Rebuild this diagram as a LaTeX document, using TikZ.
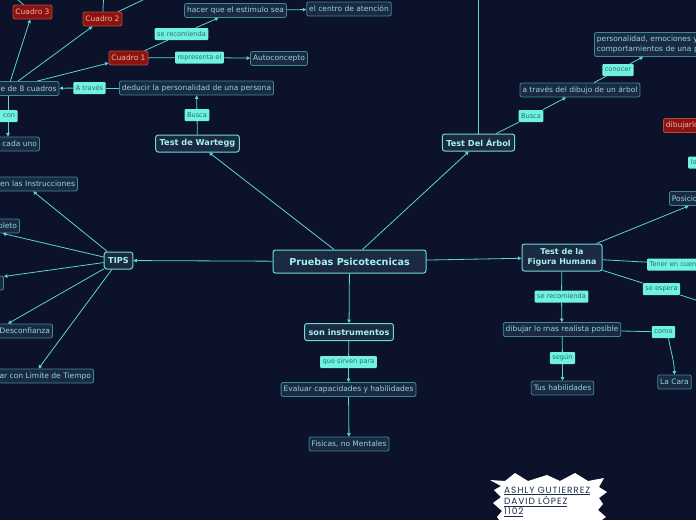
\documentclass[tikz,border=0pt]{standalone}
\usepackage{fontspec}
\setmainfont{DejaVu Sans}
\newfontfamily\sigfont[LetterSpace=10]{Poppins}
\usetikzlibrary{arrows.meta}
\definecolor{bg}{HTML}{0B1229}
\definecolor{nodef}{HTML}{1B2942}
\definecolor{leafb}{HTML}{3B8A92}
\definecolor{leaft}{HTML}{8ADADA}
\definecolor{mainb}{HTML}{6CDCD4}
\definecolor{maint}{HTML}{A6F2EA}
\definecolor{lblf}{HTML}{6FF2E2}
\definecolor{lblt}{HTML}{2D6B6E}
\definecolor{redf}{HTML}{8C130F}
\definecolor{redb}{HTML}{B24A44}
\definecolor{redt}{HTML}{F0B3A0}
\definecolor{linec}{HTML}{5CD6CA}
\definecolor{sigt}{HTML}{1E2B4A}
\begin{document}
\begin{tikzpicture}[x=1pt,y=-1pt,
 leaf/.style={draw=leafb, fill=nodef, text=leaft, rounded corners=2pt, line width=0.8pt,
   font=\fontsize{7.5}{8.8}\selectfont, inner xsep=2.5pt, inner ysep=0pt, minimum height=14pt},
 big/.style={draw=mainb, fill=nodef, text=maint, rounded corners=2.5pt, line width=1pt,
   font=\bfseries\fontsize{8.2}{9.8}\selectfont, inner xsep=4pt, inner ysep=0pt, minimum height=17pt},
 lbl/.style={fill=lblf, text=lblt, rounded corners=1pt, font=\fontsize{6.6}{7.5}\selectfont,
   inner xsep=2.5pt, inner ysep=0pt, minimum height=12pt},
 rednode/.style={leaf, draw=redb, fill=redf, text=redt},
 cutl/.style={text width=#1, align=right},
 cutr/.style={text width=#1, align=left},
 conn/.style={draw=linec, line width=0.8pt},
 arr/.style={conn, -{Triangle[length=3.5pt,width=3.5pt]}},
]
\useasboundingbox (0,0) rectangle (696,520);
\fill[bg] (0,0) rectangle (696,520);
\clip (0,0) rectangle (696,520);

% centre
\node[big, font=\bfseries\fontsize{9.6}{11}\selectfont, minimum height=23pt, minimum width=153pt] (main) at (349.5,261.5) {Pruebas Psicotecnicas};
\node[big] (wartegg) at (197.5,143.5) {Test de Wartegg};
\node[big] (arbol) at (478.5,142.5) {Test Del Árbol};
\node[big] (tips) at (118.5,260.5) {TIPS};
\node[big] (son) at (349,332) {son instrumentos};
\node[lbl] (sirven) at (348.5,362) {que sirven para};
\node[leaf] (evaluar) at (348.5,389.5) {Evaluar capacidades y habilidades};
\node[leaf] (fisicas) at (349,444) {Fisicas, no Mentales};

% Wartegg branch
\node[lbl] (busca1) at (197,115) {Busca};
\node[leaf] (deducir) at (196.5,88) {deducir la personalidad de una persona};
\node[lbl] (atraves1) at (89.5,88) {A través};
\node[leaf, cutl=97pt] (ocho) at (8,88.5) {e de 8 cuadros};
\node[lbl, cutl=14pt] (con) at (8,116) {con};
\node[leaf, cutl=58pt] (cadauno) at (8,144) {cada uno};
\node[rednode] (cuadro1) at (128.5,58) {Cuadro 1};
\node[rednode] (cuadro2) at (102.5,19) {Cuadro 2};
\node[rednode] (cuadro3) at (32.5,12) {Cuadro 3};
\node[lbl] (serec1) at (181.5,34) {se recomienda};
\node[leaf] (hacer) at (235.5,10.5) {hacer que el estimulo sea};
\node[leaf] (centro) at (349,9) {el centro de atención};
\node[lbl] (representa) at (199.5,57.5) {representa el};
\node[leaf] (auto) at (279,58.5) {Autoconcepto};
\coordinate (c3up) at (-6,-20);
\coordinate (c2up) at (104,-10);
\coordinate (c2ur) at (164,-10);

% TIPS branch
\node[leaf, cutl=102pt] (instr) at (24,184) {en las Instrucciones};
\node[leaf, cutl=92pt] (pleto) at (-29,226) {pleto};
\node[leaf, cutl=88pt] (tercero) at (-43,283) {};
\node[leaf, cutl=110pt] (desconf) at (-5,331) {Desconfianza};
\node[leaf, cutl=116pt] (tiempo) at (33,376) {ar con Limite de Tiempo};

% Arbol branch
\coordinate (arbtop) at (478.5,-10);
\node[lbl] (busca2) at (531,116) {Busca};
\node[leaf] (atraves2) at (580,90) {a través del dibujo de un árbol};
\node[lbl] (conocer) at (618,70) {conocer};
\node[leaf, cutr=140pt, minimum height=24pt, font=\fontsize{7.5}{9.5}\selectfont, anchor=west] (person) at (594,44.5) {personalidad, emociones y\\comportamientos de una p};
\node[rednode, cutr=60pt, anchor=west] (dibujarlo) at (663,125.5) {dibujarlo};
\node[lbl, cutr=40pt, anchor=west] (lo) at (688,162.5) {lo};

% Figura Humana branch
\node[big, align=center, minimum height=27pt, minimum width=80pt, font=\bfseries\fontsize{8}{10.5}\selectfont] (fh) at (562,257.5) {Test de la\\Figura Humana};
\node[leaf, cutr=70pt, anchor=west] (posicio) at (669,198.5) {Posicio};
\node[lbl, cutr=80pt, anchor=west] (tener) at (647,264.5) {Tener en cuen};
\node[lbl] (espera) at (661.5,289) {se espera};
\coordinate (espright) at (730,311);
\node[lbl] (serec2) at (561.5,296.5) {se recomienda};
\node[leaf] (dibujar) at (562,329.5) {dibujar lo mas realista posible};
\node[lbl] (segun) at (562.5,358) {según};
\node[leaf] (habil) at (562.5,388) {Tus habilidades};
\node[lbl] (como) at (663.5,332) {como};
\node[leaf] (cara) at (674.5,382) {La Cara};

% connectors
\draw[arr] (main) -- (wartegg);
\draw[arr] (main) -- (arbol);
\draw[arr] (main) -- (tips);
\draw[arr] (main) -- (fh);
\draw[arr] (main) -- (son);
\draw[conn] (son) -- (sirven);
\draw[arr] (sirven) -- (evaluar);
\draw[arr] (evaluar) -- (fisicas);

\draw[conn] (wartegg) -- (busca1);
\draw[arr] (busca1) -- (deducir);
\draw[conn] (deducir) -- (atraves1);
\draw[arr] (atraves1) -- (ocho);
\draw[conn] (ocho) -- (con);
\draw[arr] (con) -- (cadauno);
\draw[arr] (ocho) -- (cuadro1);
\draw[arr] (ocho) -- (cuadro2);
\draw[arr] (ocho) -- (cuadro3);
\draw[conn] (cuadro3) -- (c3up);
\draw[conn] (cuadro2) -- (c2up);
\draw[conn] (cuadro2) -- (c2ur);
\draw[conn] (cuadro1) -- (serec1);
\draw[arr] (serec1) -- (hacer);
\draw[arr] (hacer) -- (centro);
\draw[conn] (cuadro1) -- (representa);
\draw[arr] (representa) -- (auto);

\draw[arr] (tips) -- (instr);
\draw[arr] (tips) -- (pleto);
\draw[arr] (tips) -- (tercero);
\draw[arr] (tips) -- (desconf);
\draw[arr] (tips) -- (tiempo);

\draw[conn] (arbol) -- (arbtop);
\draw[conn] (arbol) -- (busca2);
\draw[arr] (busca2) -- (atraves2);
\draw[conn] (atraves2) -- (conocer);
\draw[arr] (conocer) -- (person);

\draw[arr] (fh) -- (posicio);
\draw[conn] (fh) -- (tener);
\draw[conn] (fh) -- (espera);
\draw[conn] (espera) -- (espright);
\draw[conn] (fh) -- (serec2);
\draw[arr] (serec2) -- (dibujar);
\draw[conn] (dibujar) -- (segun);
\draw[arr] (segun) -- (habil);
\draw[conn] (dibujar) -- (como);
\draw[arr] ([xshift=5pt]como.south) to[out=-80,in=92] (cara.north);

% signature burst
\fill[white] (490,480) -- (505,481) -- (515,473) -- (528,481) -- (547,475) -- (560,481)
  -- (575,473) -- (588,481) -- (604,478) -- (599,487) -- (607,492) -- (599,498)
  -- (603,504) -- (598,510) -- (606,517) -- (599,522) -- (601,530) -- (500,530)
  -- (502,524) -- (497,517) -- (502,511) -- (493,503) -- (501,497) -- (494,490)
  -- (501,486) -- cycle;
\node[anchor=north west, align=left, text=sigt, inner sep=0pt,
  font=\sigfont\fontsize{9}{10}\selectfont] (sigtxt) at (504,486.5)
  {\underline{ASHLY GUTIERREZ}\\\underline{DAVID LÓPEZ}\\\underline{1102}};
\end{tikzpicture}
\end{document}
